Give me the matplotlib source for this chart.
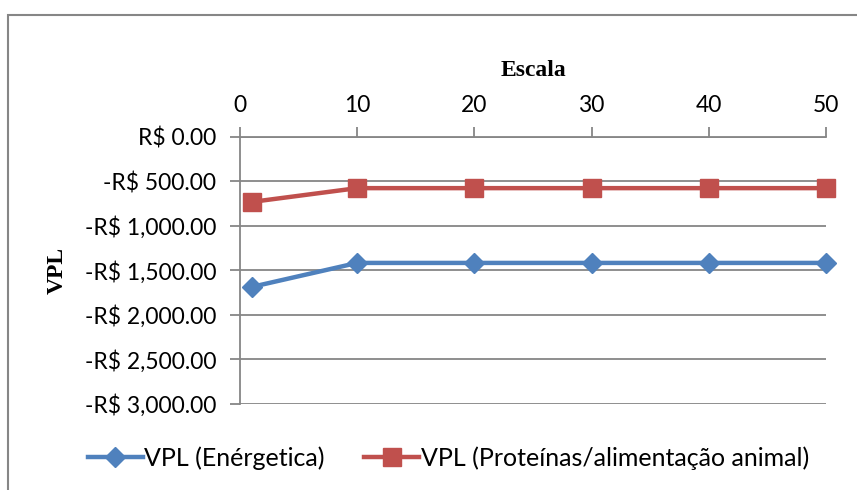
import matplotlib.pyplot as plt
from matplotlib.patches import Rectangle
from matplotlib.ticker import FuncFormatter

plt.rcParams['font.family'] = ['Lato', 'DejaVu Sans']

escala = [1, 10, 20, 30, 40, 50]
vpl_energetica = [-1685, -1415, -1415, -1415, -1415, -1415]
vpl_proteinas = [-730, -575, -575, -575, -575, -575]

blue = '#4F81BD'
red = '#C0504D'
grey = '#868686'

fig = plt.figure(figsize=(8.57, 4.9), dpi=100)
ax = fig.add_axes([0.280, 0.1755, 0.684, 0.545])

ax.plot(escala, vpl_energetica, color=blue, lw=3.2, marker='D', ms=10,
        clip_on=False, label='VPL (Enérgetica)')
ax.plot(escala, vpl_proteinas, color=red, lw=3.2, marker='s', ms=13,
        clip_on=False, label='VPL (Proteínas/alimentação animal)')

ax.set_xlim(0, 50)
ax.set_ylim(-3000, 0)
ax.set_xticks([0, 10, 20, 30, 40, 50])
ax.set_yticks(range(-3000, 1, 500))


def brl(v, pos):
    s = f'R$ {abs(v):,.2f}'
    return '-' + s if v < 0 else s


ax.yaxis.set_major_formatter(FuncFormatter(brl))
ax.xaxis.tick_top()
ax.xaxis.set_label_position('top')
ax.tick_params(axis='both', colors=grey, labelcolor='black', labelsize=16.5,
               length=7, width=1.3)
ax.tick_params(axis='x', direction='out', pad=8)
ax.tick_params(axis='y', direction='out', pad=10)

ax.grid(axis='y', color=grey, lw=1.3)
ax.set_axisbelow(True)
for side in ['right', 'bottom']:
    ax.spines[side].set_visible(False)
for side in ['left', 'top']:
    ax.spines[side].set_color(grey)
    ax.spines[side].set_linewidth(1.3)

ax.set_xlabel('Escala', fontfamily='Liberation Serif', fontweight='bold',
              fontsize=17, labelpad=14)
ax.set_ylabel('VPL', fontfamily='Liberation Serif', fontweight='bold',
              fontsize=17, labelpad=12)

fig.legend(loc='center', bbox_to_anchor=(0.523, 0.065), ncol=2, frameon=False,
           fontsize=18, handlelength=2.2, handletextpad=0.05, columnspacing=1.6)

# chart area border
fig.patches.append(Rectangle((8 / 857, -0.1), 1.2, 1.1 - 15 / 490,
                             transform=fig.transFigure, fill=False,
                             edgecolor=grey, lw=1.5))

fig.savefig('out.png', dpi=100)
